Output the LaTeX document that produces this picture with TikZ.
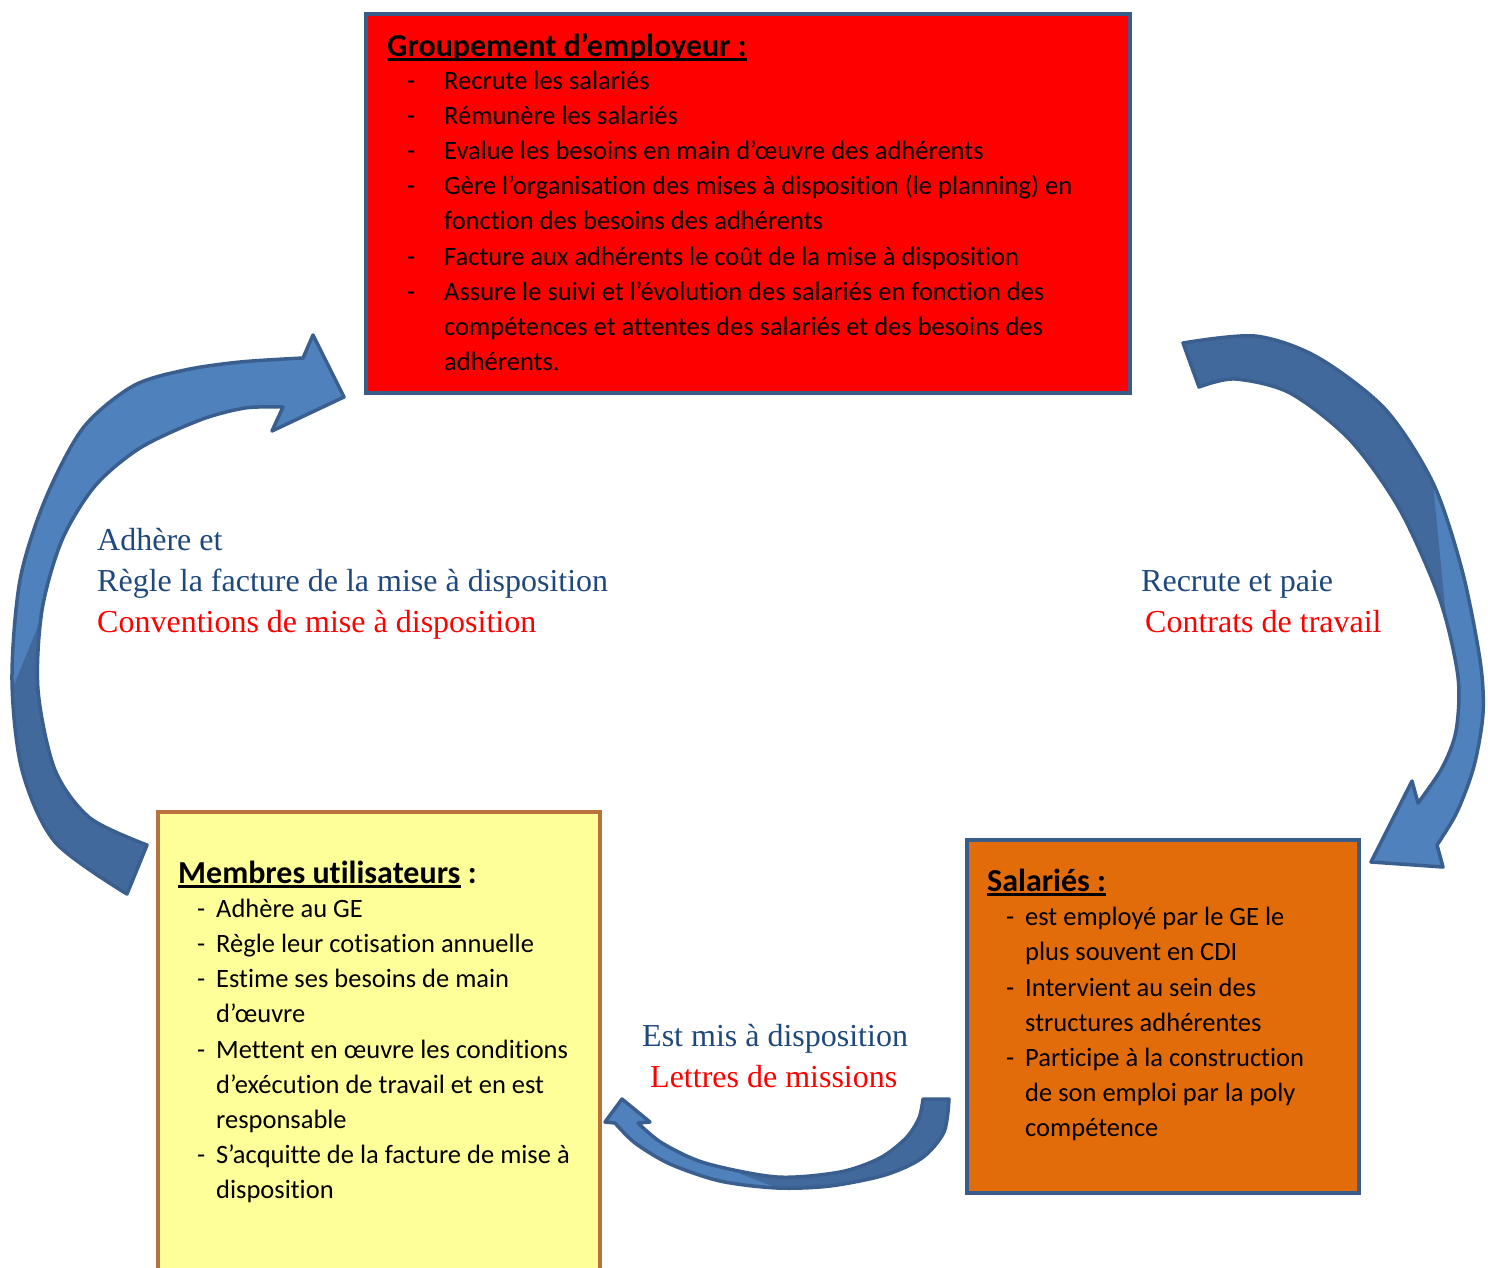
\documentclass[tikz,border=0pt]{standalone}
\usepackage{fontspec}
\setmainfont{Carlito}[Ligatures=CommonOff]
\newfontfamily\lblfont{Liberation Serif}
\definecolor{boxblue}{HTML}{385D8A}
\definecolor{gered}{HTML}{FF0000}
\definecolor{muyellow}{HTML}{FFFF99}
\definecolor{mubrown}{HTML}{B7733B}
\definecolor{salorange}{HTML}{E36C0A}
\definecolor{arrlight}{HTML}{4F81BD}
\definecolor{arrdark}{HTML}{41699C}
\definecolor{arrline}{HTML}{3A5F8E}
\definecolor{lblblue}{HTML}{1F497D}
\definecolor{lblred}{HTML}{FF0000}
\begin{document}
\begin{tikzpicture}[x=1pt,y=-1pt,
  panel/.style={draw, line width=4pt, rectangle, inner sep=0pt, anchor=north west},
  item/.style={anchor=base west, inner sep=0pt, font=\fontsize{26.5}{32}\selectfont},
  ttl/.style={anchor=base west, inner sep=0pt, font=\fontsize{32}{36}\selectfont\bfseries},
  lbl/.style={anchor=base west, inner sep=0pt, font=\lblfont\fontsize{32}{40}\selectfont},
  ul/.style={line width=2.2pt, black},
  arrfill/.style={fill=arrlight},
  arrout/.style={draw=arrline, line width=3.5pt, line join=round}
]
\useasboundingbox (0,0) rectangle (1488,1267);
\fill[white] (0,0) rectangle (1488,1267);

% ---------- boxes ----------
\node[panel, draw=boxblue, fill=gered, minimum width=764pt, minimum height=379pt] (ge) at (364,12) {};
\node[panel, draw=mubrown, fill=muyellow, minimum width=442pt, minimum height=464pt] (mu) at (156,810) {};
\node[panel, draw=boxblue, fill=salorange, minimum width=392pt, minimum height=353pt] (sal) at (965,838) {};

% ---------- arrows ----------
\def\arrowL{(127,894) -- (147,845) -- plot[smooth] coordinates {(147,845) (90,818) (55,770) (38,690) (42,610) (62,540) (95,486) (140,448) (200,420) (245,408) (283,407)} -- (272,431) -- (344,397) -- (313,335) -- (303,358) -- plot[smooth] coordinates {(303,358) (240,362) (185,370) (133,386) (83,428) (45,500) (20,580) (12,680) (22,770) (55,842) (127,894)} -- cycle}
\def\arrowR{(1183,343) -- (1199,387) -- plot[smooth] coordinates {(1199,387) (1235,379) (1290,393) (1350,440) (1400,510) (1440,600) (1458,677) (1456,731) (1442,768) (1418,803)} -- (1412,781) -- (1371,862) -- (1443,867) -- (1437,845) -- plot[smooth] coordinates {(1437,845) (1457,812) (1474,766) (1483,713) (1480,660) (1462,570) (1433,483) (1385,409) (1317,357) (1255,336) (1183,343)} -- cycle}
\def\arrowB{(923,1099) -- (949,1099) -- plot[smooth] coordinates {(949,1099) (944,1132) (922,1158) (885,1175) (830,1186) (777,1188) (720,1181) (670,1164) (635,1143) (615,1123)} -- (605,1122) -- (622,1099) -- (650,1122) -- (638,1123) -- plot[smooth] coordinates {(638,1123) (662,1143) (705,1163) (777,1177) (840,1172) (880,1158) (906,1138) (919,1118) (923,1099)} -- cycle}

\fill[arrfill] \arrowL;
\begin{scope}
  \clip \arrowL;
  \fill[arrdark] (95,486) -- (12,690) -- (-10,690) -- (-10,1000) -- (400,1000) -- (400,520) -- (100,500) -- cycle;
\end{scope}
\draw[arrout] \arrowL;

\fill[arrfill] \arrowR;
\begin{scope}
  \clip \arrowR;
  \fill[arrdark] (1433,483) -- (1457,731) -- (1400,731) -- (1100,731) -- (1100,300) -- (1500,300) -- (1500,470) -- cycle;
\end{scope}
\draw[arrout] \arrowR;

\fill[arrfill] \arrowB;
\begin{scope}
  \clip \arrowB;
  \fill[arrdark] (662,1143) -- (777,1188) -- (777,1250) -- (1000,1250) -- (1000,1050) -- (700,1050) -- cycle;
\end{scope}
\draw[arrout] \arrowB;

% ---------- Groupement d'employeur ----------
\node[ttl] (get) at (387,56) {Groupement d’employeur :};
\draw[ul] ([yshift=-3.5pt]get.base west) -- ([yshift=-3.5pt]get.base east);
\foreach \yy/\txt [count=\i] in {
  89/{Recrute les salariés},
  124/{Rémunère les salariés},
  159/{Evalue les besoins en main d’œuvre des adhérents},
  194/{Gère l’organisation des mises à disposition (le planning) en},
  229/{fonction des besoins des adhérents},
  265/{Facture aux adhérents le coût de la mise à disposition},
  300/{Assure le suivi et l’évolution des salariés en fonction des},
  335/{compétences et attentes des salariés et des besoins des},
  370/{adhérents.}}
  \node[item] (ge\i) at (444,\yy) {\txt};
\foreach \yy [count=\i] in {89,124,159,194,265,300}
  \node[item] (ged\i) at (407,\yy) {-};

% ---------- Membres utilisateurs ----------
\node[ttl] (mut) at (178,883) {Membres utilisateurs};
\node[ttl, anchor=base west] (mutc) at ([xshift=7pt]mut.base east) {:};
\draw[ul] ([yshift=-3.5pt]mut.base west) -- ([yshift=-3.5pt]mut.base east);
\foreach \yy/\txt [count=\i] in {
  917/{Adhère au GE},
  952/{Règle leur cotisation annuelle},
  987/{Estime ses besoins de main},
  1022/{d’œuvre},
  1058/{Mettent en œuvre les conditions},
  1093/{d’exécution de travail et en est},
  1128/{responsable},
  1163/{S’acquitte de la facture de mise à},
  1198/{disposition}}
  \node[item] (mu\i) at (216,\yy) {\txt};
\foreach \yy [count=\i] in {917,952,987,1058,1163}
  \node[item] (mud\i) at (197,\yy) {-};

% ---------- Salariés ----------
\node[ttl] (salt) at (987,891) {Salariés :};
\draw[ul] ([yshift=-3.5pt]salt.base west) -- ([yshift=-3.5pt]salt.base east);
\foreach \yy/\txt [count=\i] in {
  925/{est employé par le GE le},
  960/{plus souvent en CDI},
  996/{Intervient au sein des},
  1031/{structures adhérentes},
  1066/{Participe à la construction},
  1101/{de son emploi par la poly},
  1136/{compétence}}
  \node[item] (sa\i) at (1025,\yy) {\txt};
\foreach \yy [count=\i] in {925,996,1066}
  \node[item] (sad\i) at (1006,\yy) {-};

% ---------- arrow labels ----------
\node[lbl, text=lblblue] (la1) at (97,550) {Adhère et};
\node[lbl, text=lblblue] (la2) at (97,591) {Règle la facture de la mise à disposition};
\node[lbl, text=lblred] (la3) at (97,632) {Conventions de mise à disposition};
\node[lbl, text=lblblue] (lr1) at (1141,591) {Recrute et paie};
\node[lbl, text=lblred] (lr2) at (1145,632) {Contrats de travail};
\node[lbl, text=lblblue] (lb1) at (642,1046) {Est mis à disposition};
\node[lbl, text=lblred] (lb2) at (650,1087) {Lettres de missions};
\end{tikzpicture}
\end{document}
